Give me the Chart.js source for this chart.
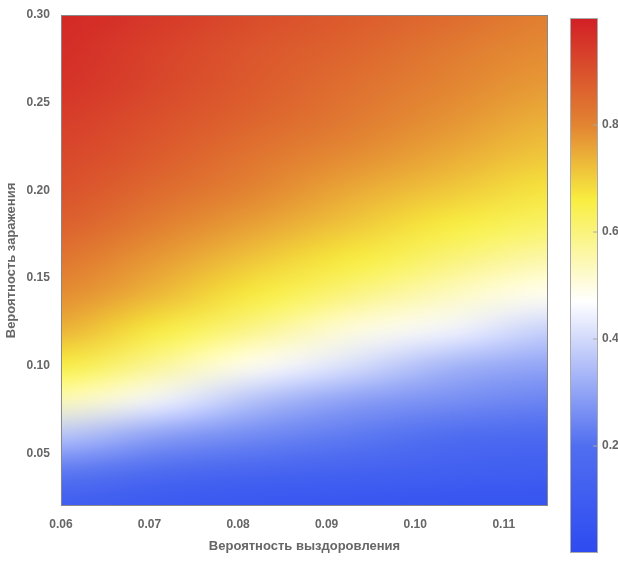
<!DOCTYPE html>
<html><head><meta charset="utf-8">
<script src="https://cdn.jsdelivr.net/npm/chart.js@4/dist/chart.umd.min.js"></script>
<style>body{margin:0;background:#fff}#wrap{width:618px;height:562px}</style>
</head><body><div id="wrap"><canvas id="c"></canvas></div>
<script>
// grid vertices: recovery probability (x) and infection probability (y)
const xs = [0.06, 0.071, 0.082, 0.093, 0.104, 0.115];
const ys = [0.02, 0.04, 0.06, 0.08, 0.10, 0.12, 0.14, 0.16, 0.18, 0.20, 0.22, 0.24, 0.26, 0.28, 0.30];
// values per column (x), bottom to top (y)
const col0 = [.10,.22,.36,.54,.66,.74,.79,.83,.87,.90,.92,.94,.96,.97,.98];
const col1 = [.08,.18,.29,.45,.57,.66,.73,.77,.81,.85,.88,.90,.92,.93,.95];
const col2 = [.07,.15,.25,.35,.48,.58,.66,.71,.76,.80,.83,.86,.88,.89,.91];
const col3 = [.06,.13,.22,.29,.41,.50,.59,.66,.71,.75,.79,.82,.84,.86,.88];
const col4 = [.05,.12,.19,.26,.33,.45,.53,.60,.66,.71,.75,.78,.80,.82,.85];
const col5 = [.05,.11,.17,.24,.30,.38,.48,.55,.62,.67,.71,.74,.77,.79,.81];
const cols = [col0, col1, col2, col3, col4, col5];
const barTicks = [0.2, 0.4, 0.6, 0.8];

const stops = [[0.0,[45,75,240]],[0.2,[80,110,240]],[0.47,[255,255,255]],[0.66,[248,238,64]],[0.8,[226,132,50]],[1.0,[210,30,38]]];
function color(v){
  for(let i=1;i<stops.length;i++){
    if(v<=stops[i][0]){
      const a=stops[i-1],b=stops[i],t=(v-a[0])/(b[0]-a[0]);
      return a[1].map((c,k)=>Math.round(c+(b[1][k]-c)*t));
    }
  }
  return stops[stops.length-1][1];
}
const gray='#666';
const FONT='"Liberation Sans", Arial, sans-serif';
const heat={
  id:'heat',
  beforeDatasetsDraw(chart){
    const {ctx,chartArea:ca,scales:{x,y}}=chart;
    const off=document.createElement('canvas');
    off.width=xs.length; off.height=ys.length;
    const oc=off.getContext('2d'), img=oc.createImageData(xs.length,ys.length);
    cols.forEach((col,i)=>col.forEach((v,j)=>{
      const c=color(v), p=((ys.length-1-j)*xs.length+i)*4;
      img.data[p]=c[0];img.data[p+1]=c[1];img.data[p+2]=c[2];img.data[p+3]=255;
    }));
    oc.putImageData(img,0,0);
    const dx=(x.getPixelForValue(xs[1])-x.getPixelForValue(xs[0]))/2;
    const dy=(y.getPixelForValue(ys[0])-y.getPixelForValue(ys[1]))/2;
    ctx.save();
    ctx.beginPath();ctx.rect(ca.left,ca.top,ca.width,ca.height);ctx.clip();
    ctx.imageSmoothingEnabled=true;ctx.imageSmoothingQuality='high';
    const l=x.getPixelForValue(xs[0])-dx, r=x.getPixelForValue(xs[xs.length-1])+dx;
    const t=y.getPixelForValue(ys[ys.length-1])-dy, b=y.getPixelForValue(ys[0])+dy;
    ctx.drawImage(off,l,t,r-l,b-t);
    ctx.restore();
    ctx.save();
    ctx.strokeStyle='#888';ctx.lineWidth=1;
    ctx.strokeRect(ca.left+.5,ca.top+.5,ca.width-1,ca.height-1);
    // colorbar
    const bx=570,bw=28,btop=18,bbot=553;
    const g=ctx.createLinearGradient(0,bbot,0,btop);
    stops.forEach(s=>g.addColorStop(s[0],'rgb('+s[1].join(',')+')'));
    ctx.fillStyle=g;ctx.fillRect(bx,btop,bw,bbot-btop);
    ctx.strokeStyle='#aaa';ctx.strokeRect(bx+.5,btop+.5,bw-1,bbot-btop-1);
    ctx.fillStyle=gray;ctx.font='bold 12px '+FONT;ctx.textBaseline='middle';
    barTicks.forEach(v=>{
      const py=bbot-(bbot-btop)*v;
      ctx.beginPath();ctx.moveTo(bx+bw-5,py);ctx.lineTo(bx+bw,py);ctx.stroke();
      ctx.fillText(v.toFixed(1),bx+bw+4,py);
    });
    ctx.restore();
  }
};
new Chart(document.getElementById('c'),{
  type:'scatter',
  data:{datasets:[{data:[]}]},
  plugins:[heat],
  options:{
    responsive:true,maintainAspectRatio:false,animation:false,
    layout:{padding:{top:15,right:70,left:0,bottom:4}},
    plugins:{legend:{display:false},tooltip:{enabled:false}},
    scales:{
      x:{min:0.06,max:0.115,grid:{display:false},border:{display:false},
        afterBuildTicks(s){s.ticks=[0.06,0.07,0.08,0.09,0.10,0.11].map(v=>({value:v}));},
        ticks:{color:gray,font:{family:FONT,size:12,weight:'bold'},callback:v=>v.toFixed(2),maxRotation:0},
        title:{display:true,text:'Вероятность выздоровления',color:gray,font:{family:FONT,size:13,weight:'bold'}}},
      y:{min:0.02,max:0.30,grid:{display:false},border:{display:false},
        afterBuildTicks(s){s.ticks=[0.05,0.10,0.15,0.20,0.25,0.30].map(v=>({value:v}));},
        ticks:{color:gray,font:{family:FONT,size:12,weight:'bold'},callback:v=>v.toFixed(2)},
        title:{display:true,text:'Вероятность заражения',color:gray,font:{family:FONT,size:13,weight:'bold'}}}
    }
  }
});
</script></body></html>
